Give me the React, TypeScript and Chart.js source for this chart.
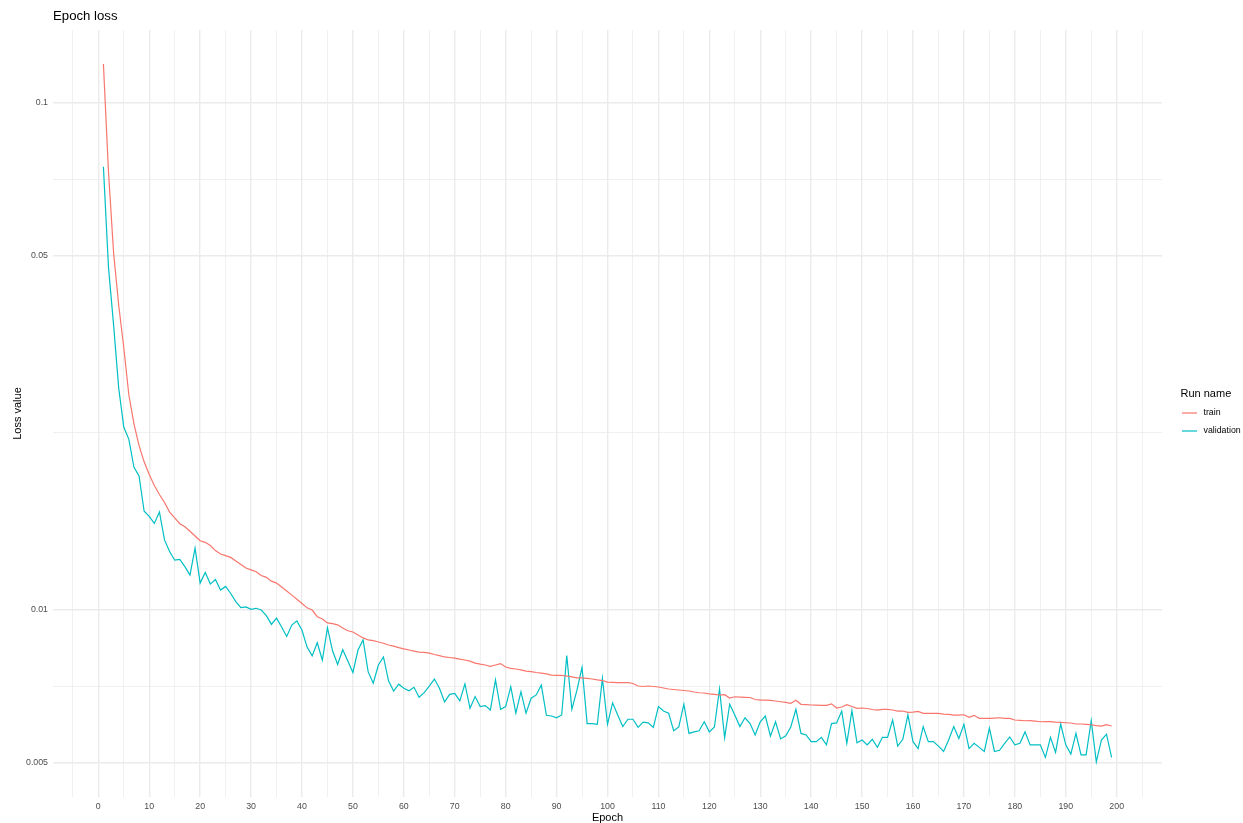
import React, { useEffect, useRef } from "react";
import { Chart, registerables } from "chart.js";

Chart.register(...registerables);

const FONT = '"Liberation Sans", Arial, Helvetica, sans-serif';

const chartTitle = "Epoch loss";
const xAxisTitle = "Epoch";
const yAxisTitle = "Loss value";
const legendTitle = "Run name";
const seriesNames = ["train", "validation"];
const seriesColors = ["#F8766D", "#00BFC4"];

const xMajorTicks = [0, 10, 20, 30, 40, 50, 60, 70, 80, 90, 100, 110, 120, 130, 140, 150, 160, 170, 180, 190, 200];
const xMinorTicks = [-5, 5, 15, 25, 35, 45, 55, 65, 75, 85, 95, 105, 115, 125, 135, 145, 155, 165, 175, 185, 195, 205];
const yMajorTicks = [0.005, 0.01, 0.05, 0.1];
const yTickLabels = ["0.005", "0.01", "0.05", "0.1"];
const yMinorTicks = [0.00707, 0.02236, 0.0707];

const trainLoss = [
  0.1194, 0.0731, 0.0506, 0.03995, 0.0329, 0.02655, 0.0233, 0.0211, 0.0196, 0.0185,
  0.0176, 0.0169, 0.0163, 0.0156, 0.0152, 0.0148, 0.0146, 0.0143, 0.014, 0.0137,
  0.0136, 0.0134, 0.0131, 0.0129, 0.0128, 0.0127, 0.0125, 0.0123, 0.0121, 0.012,
  0.0119, 0.0117, 0.0116, 0.0114, 0.0113, 0.0111, 0.0109, 0.0107, 0.0105, 0.0103,
  0.0101, 0.01, 0.0097, 0.0096, 0.00943, 0.0094, 0.00935, 0.00922, 0.0091, 0.00905,
  0.00893, 0.00881, 0.00873, 0.0087, 0.00865, 0.0086, 0.00853, 0.00849, 0.00843, 0.00838,
  0.00834, 0.0083, 0.00826, 0.00825, 0.00822, 0.00817, 0.00813, 0.00808, 0.00806, 0.00804,
  0.008, 0.00797, 0.00793, 0.00786, 0.00782, 0.00779, 0.00774, 0.00779, 0.00784, 0.00772,
  0.00767, 0.00765, 0.00762, 0.00758, 0.00756, 0.00753, 0.00751, 0.00748, 0.00744, 0.00743,
  0.00743, 0.00741, 0.00738, 0.00735, 0.00735, 0.00733, 0.00731, 0.00728, 0.00726, 0.00721,
  0.0072, 0.00719, 0.00719, 0.00719, 0.007163, 0.007082, 0.007066, 0.007082, 0.007066, 0.00705,
  0.007018, 0.006986, 0.00697, 0.006954, 0.006938, 0.006923, 0.006891, 0.006869, 0.00686, 0.006835,
  0.00682, 0.006798, 0.006807, 0.006706, 0.006745, 0.006736, 0.006727, 0.006721, 0.00666, 0.006645,
  0.006645, 0.006636, 0.006615, 0.006594, 0.006576, 0.006546, 0.006636, 0.006516, 0.006507, 0.006496,
  0.00649, 0.006487, 0.006487, 0.006531, 0.006408, 0.006437, 0.006505, 0.006452, 0.006399, 0.006408,
  0.006394, 0.006365, 0.00635, 0.00637, 0.00637, 0.00635, 0.006321, 0.006321, 0.006283, 0.006292,
  0.006312, 0.006255, 0.006255, 0.006255, 0.006255, 0.006235, 0.006227, 0.006207, 0.006207, 0.006215,
  0.006143, 0.006199, 0.006115, 0.006115, 0.006115, 0.006123, 0.006131, 0.006115, 0.006115, 0.006068,
  0.006059, 0.006048, 0.006054, 0.00604, 0.006021, 0.006026, 0.006026, 0.006013, 0.006005, 0.005994,
  0.005986, 0.005959, 0.005959, 0.005951, 0.00594, 0.005918, 0.005905, 0.00594, 0.005905,
];

const validationLoss = [
  0.07484, 0.04737, 0.0365, 0.02741, 0.02296, 0.02171, 0.01912, 0.01838, 0.01566, 0.0153,
  0.01482, 0.01561, 0.01375, 0.01304, 0.01254, 0.01258, 0.01218, 0.01172, 0.01325, 0.0113,
  0.01186, 0.01125, 0.01149, 0.01095, 0.01113, 0.01078, 0.01039, 0.01011, 0.01014, 0.01003,
  0.01008, 0.01, 0.00975, 0.00937, 0.00964, 0.00926, 0.00887, 0.00934, 0.00952, 0.00912,
  0.00845, 0.00812, 0.00862, 0.00796, 0.00923, 0.00831, 0.00781, 0.00835, 0.00793, 0.00753,
  0.00834, 0.00873, 0.00755, 0.00717, 0.00779, 0.00808, 0.00725, 0.00692, 0.00714, 0.00701,
  0.00693, 0.00704, 0.00673, 0.00687, 0.00708, 0.00731, 0.00701, 0.00659, 0.00682, 0.00685,
  0.00662, 0.00715, 0.0064, 0.00675, 0.00645, 0.00648, 0.00635, 0.00728, 0.00637, 0.00645,
  0.00706, 0.00626, 0.0069, 0.00626, 0.0067, 0.0068, 0.00711, 0.0062, 0.00618, 0.00613,
  0.00621, 0.00813, 0.00637, 0.00695, 0.00771, 0.00597, 0.00597, 0.00595, 0.00734, 0.00595,
  0.00656, 0.00621, 0.00589, 0.00609, 0.00609, 0.00587, 0.00601, 0.00599, 0.00587, 0.00645,
  0.00632, 0.00626, 0.00578, 0.00588, 0.00652, 0.00571, 0.00575, 0.00578, 0.00602, 0.00575,
  0.00588, 0.00699, 0.0056, 0.00652, 0.00621, 0.00589, 0.00613, 0.00597, 0.00567, 0.00602,
  0.00618, 0.00564, 0.00602, 0.00557, 0.00565, 0.00588, 0.00637, 0.00571, 0.00567, 0.0055,
  0.0055, 0.00561, 0.00542, 0.00597, 0.00599, 0.00632, 0.00546, 0.00633, 0.00547, 0.00554,
  0.00542, 0.00556, 0.00536, 0.00561, 0.00561, 0.00607, 0.00539, 0.00556, 0.00621, 0.0055,
  0.00533, 0.00589, 0.0055, 0.0055, 0.00539, 0.00526, 0.00554, 0.00589, 0.00558, 0.00595,
  0.00533, 0.00546, 0.00536, 0.00526, 0.00585, 0.00526, 0.00529, 0.00546, 0.00562, 0.00542,
  0.00546, 0.00575, 0.00542, 0.00542, 0.00542, 0.00512, 0.00561, 0.00524, 0.00596, 0.00542,
  0.0052, 0.00571, 0.00518, 0.00518, 0.00605, 0.00502, 0.00554, 0.00569, 0.00512,
];

const GRID = "#EBEBEB";

const isYMajor = (v: number) => yMajorTicks.some((m) => Math.abs(m - v) / m < 1e-6);

const legendPlugin = {
  id: "ggLegend",
  afterDraw(chart: any) {
    const ctx = chart.ctx as CanvasRenderingContext2D;
    const area = chart.chartArea;
    const x0 = area.right + 18.5;
    const yMid = (area.top + area.bottom) / 2;
    ctx.save();
    ctx.textAlign = "left";
    ctx.textBaseline = "middle";
    ctx.fillStyle = "#000000";
    ctx.font = `11px ${FONT}`;
    ctx.fillText(legendTitle, x0, yMid - 19.5);
    chart.data.datasets.forEach((ds: any, i: number) => {
      const y = yMid - 0.5 + i * 18;
      ctx.strokeStyle = ds.borderColor;
      ctx.lineWidth = 1.2;
      ctx.beginPath();
      ctx.moveTo(x0 + 1.5, y);
      ctx.lineTo(x0 + 16.5, y);
      ctx.stroke();
      ctx.fillStyle = "#000000";
      ctx.font = `8.8px ${FONT}`;
      ctx.fillText(ds.label, x0 + 23, y);
    });
    ctx.restore();
  },
};

export default function App() {
  const canvasRef = useRef<HTMLCanvasElement | null>(null);

  useEffect(() => {
    if (!canvasRef.current) return;
    const chart = new Chart(canvasRef.current, {
      type: "line",
      data: {
        datasets: [
          {
            label: seriesNames[0],
            data: trainLoss.map((v, i) => ({ x: i + 1, y: v })),
            borderColor: seriesColors[0],
            backgroundColor: seriesColors[0],
            borderWidth: 1.2,
            pointRadius: 0,
            tension: 0,
          },
          {
            label: seriesNames[1],
            data: validationLoss.map((v, i) => ({ x: i + 1, y: v })),
            borderColor: seriesColors[1],
            backgroundColor: seriesColors[1],
            borderWidth: 1.2,
            pointRadius: 0,
            tension: 0,
          },
        ],
      },
      options: {
        animation: false,
        responsive: false,
        events: [],
        layout: { autoPadding: false, padding: { left: 0, right: 81, top: 0, bottom: 0 } },
        plugins: {
          legend: { display: false },
          tooltip: { enabled: false },
          title: {
            display: true,
            text: chartTitle,
            align: "start",
            fullSize: false,
            color: "#000000",
            font: { family: FONT, size: 13.2, weight: "normal", lineHeight: 1.2 },
            padding: { top: 8, bottom: 6.16 },
          },
        },
        scales: {
          x: {
            type: "linear",
            min: -8.9,
            max: 208.9,
            afterBuildTicks: (scale: any) => {
              scale.ticks = [...xMajorTicks, ...xMinorTicks]
                .sort((a, b) => a - b)
                .map((v) => ({ value: v }));
            },
            afterFit: (scale: any) => {
              scale.height = 26;
            },
            ticks: {
              autoSkip: false,
              maxRotation: 0,
              minRotation: 0,
              padding: 4,
              color: "#4D4D4D",
              font: { family: FONT, size: 8.8 },
              callback: (v: any) => (xMajorTicks.includes(Number(v)) ? String(v) : ""),
            },
            grid: {
              drawTicks: false,
              color: GRID,
              lineWidth: (c: any) => (c.tick && xMajorTicks.includes(c.tick.value) ? 1.4 : 0.75),
            },
            border: { display: false },
            title: {
              display: true,
              text: xAxisTitle,
              color: "#000000",
              font: { family: FONT, size: 11, lineHeight: 1 },
              padding: { top: 0, bottom: 0 },
            },
          },
          y: {
            type: "logarithmic",
            min: 0.004278,
            max: 0.1393,
            afterBuildTicks: (scale: any) => {
              scale.ticks = [...yMajorTicks, ...yMinorTicks]
                .sort((a, b) => a - b)
                .map((v) => ({ value: v }));
            },
            afterFit: (scale: any) => {
              scale.width = 53;
            },
            ticks: {
              autoSkip: false,
              padding: 5,
              color: "#4D4D4D",
              font: { family: FONT, size: 8.8 },
              callback: (v: any) => {
                const idx = yMajorTicks.findIndex((m) => Math.abs(m - Number(v)) / m < 1e-6);
                return idx >= 0 ? yTickLabels[idx] : "";
              },
            },
            grid: {
              drawTicks: false,
              color: GRID,
              lineWidth: (c: any) => (c.tick && isYMajor(c.tick.value) ? 1.4 : 0.75),
            },
            border: { display: false },
            title: {
              display: true,
              text: yAxisTitle,
              color: "#000000",
              font: { family: FONT, size: 11, lineHeight: 1.2 },
              padding: { top: 11, bottom: 0 },
            },
          },
        },
      },
      plugins: [legendPlugin],
    } as any);
    return () => chart.destroy();
  }, []);

  return (
    <div style={{ position: "absolute", left: 0, top: 0, width: 1243, height: 823, background: "#ffffff" }}>
      <canvas ref={canvasRef} width={1243} height={823} style={{ display: "block" }} />
    </div>
  );
}
